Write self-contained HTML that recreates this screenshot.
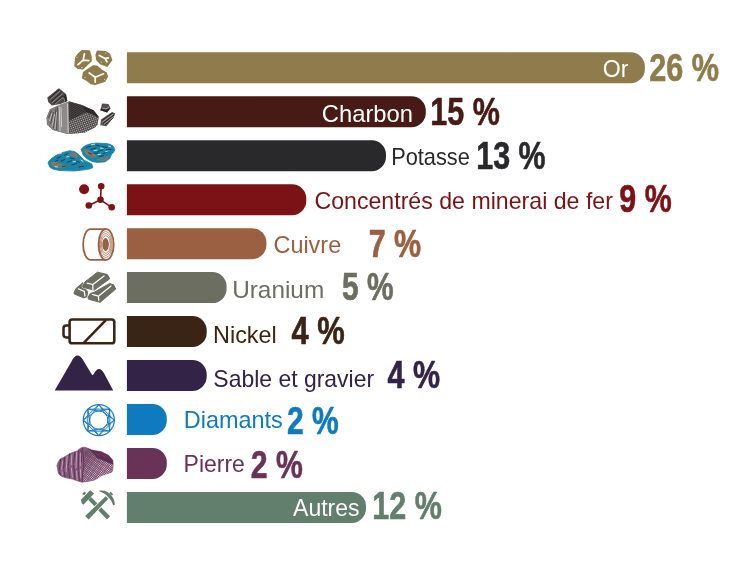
<!DOCTYPE html>
<html lang="fr">
<head>
<meta charset="utf-8">
<title>Production minérale</title>
<style>
html,body{margin:0;padding:0;background:#fff;}
body{width:748px;height:563px;overflow:hidden;}
svg{display:block;}
.lab{font-family:"Liberation Sans",sans-serif;font-size:23.8px;}
.num{font-family:"Liberation Sans",sans-serif;font-weight:bold;font-size:37.9px;stroke-width:0.6px;stroke-linejoin:round;}
</style>
</head>
<body>
<svg width="748" height="563" viewBox="0 0 748 563">
<rect width="748" height="563" fill="#fff"/>
<defs>
<pattern id="hatchCoal" width="1.8" height="1.8" patternUnits="userSpaceOnUse" patternTransform="rotate(18)"><rect width="1.8" height="1.8" fill="#c4c0c0"/><path d="M0 0.45H1.8M0.45 0V1.8" stroke="#454040" stroke-width="0.8"/></pattern>
<pattern id="hatchCoalDark" width="1.6" height="1.6" patternUnits="userSpaceOnUse" patternTransform="rotate(30)"><rect width="1.6" height="1.6" fill="#5a5555"/><path d="M0 0.5H1.6" stroke="#2d2929" stroke-width="1.1"/></pattern>
<pattern id="hatchStone" width="1.7" height="1.7" patternUnits="userSpaceOnUse" patternTransform="rotate(38)"><rect width="1.7" height="1.7" fill="#f3ecf1"/><path d="M0 0.45H1.7M0.45 0V1.7" stroke="#6e3a60" stroke-width="0.72"/></pattern>
</defs>
<g id="icon-or" fill="#8F7C4D" stroke="#8F7C4D" stroke-width="2.2" stroke-linejoin="round">
<polygon points="82.0,51.2 89.0,51.4 90.7,57.0 90.6,61.0 82.6,68.4 78.4,68.0 75.4,65.8 76.2,57.4 78.6,54.4"/>
<polygon points="97.6,51.6 105.5,52.0 109.1,54.4 111.2,59.8 107.1,65.6 100.8,63.4 97.2,59.8 96.6,55.0"/>
<polygon points="93.2,66.4 96.8,66.6 101.5,70.6 105.9,73.2 106.9,76.5 104.5,81.0 94.8,83.9 91.2,83.2 86.6,79.7 83.0,77.7 84.0,72.6 88.0,69.8"/>
</g>
<g fill="none" stroke="#fff" stroke-width="1.75" stroke-linecap="round">
<path d="M83.2 60.2L84.4 53.8M83.2 60.2L88.8 60.6M83.2 60.2L78.0 64.6"/>
<path d="M105.1 58.6L99.2 55.4M105.1 58.6L108.3 57.8M105.1 58.6L106.9 61.8"/>
<path d="M95.2 77.3L89.2 73.0M95.2 77.3L103.5 73.8M95.2 77.3L95.2 82.1"/>
</g>
<g fill="#fff" opacity="0.85"><circle cx="76.9" cy="57.5" r="0.55"/><circle cx="82.0" cy="67.6" r="0.55"/><circle cx="105.8" cy="53.1" r="0.55"/><circle cx="101.2" cy="62.1" r="0.55"/><circle cx="84.9" cy="77.6" r="0.55"/><circle cx="104.6" cy="79.6" r="0.55"/></g>
<g id="icon-charbon">
<polygon fill="#7d7878" points="46.6,117.5 50.0,109.3 60.0,104.8 69.5,101.3 82.8,105.3 93.5,110.7 98.6,116.5 97.6,124.5 95.2,127.2 84.9,132.6 77.5,133.2 66.8,133.9 52.8,129.9 47.0,124.6"/>
<polygon fill="#837e7e" points="46.6,117.5 50.0,109.3 58.5,105.4 59.5,131.8 52.8,129.9 47.0,124.6"/>
<path fill="none" stroke="#3f3a3a" stroke-width="0.7" d="M48.5 118L51.5 110.5M50.5 124L53.5 112M53.5 128.5L56 108.5M56.5 130L57.5 107"/>
<path fill="none" stroke="#e2dfdf" stroke-width="0.6" d="M49.5 121L52 113M52.2 126.5L54.5 114M55 129L56.6 112"/>
<polygon fill="#8f8a8a" points="58.5,105.4 68.6,101.7 69.0,133.6 59.5,131.8"/>
<path fill="none" stroke="#e6e3e3" stroke-width="0.75" d="M59.2 106.5L60 131M60.9 107L61.6 127M67.6 103.5L68.2 133"/>
<path fill="none" stroke="#4a4545" stroke-width="0.7" d="M68.9 102L69.6 133.5"/>
<polygon fill="url(#hatchCoalDark)" points="69.0,101.6 80.9,104.8 86.3,112.5 70.8,120.3 69.2,121.0"/>
<polygon fill="#2e2a2a" points="80.9,104.8 93.7,110.2 98.6,116.5 98.5,118.3 93.7,115.2 86.3,112.5"/>
<polygon fill="url(#hatchCoal)" points="69.2,121.0 70.8,120.3 86.3,112.5 93.7,115.2 98.5,118.3 97.6,124.5 95.2,127.2 84.9,132.6 77.5,133.2 69.4,133.7"/>
<polygon fill="#4f4a4a" points="47.3,97.5 58.9,88.2 66.0,94.0 67.3,101.0 60.5,104.0 51.8,105.5 48.2,102.0"/>
<path fill="none" stroke="#a8a3a3" stroke-width="0.7" d="M50.2 99.5L60 91.2M52.0 102.8L62.6 93.6M55 104.2L63.8 96.8"/>
<path fill="none" stroke="#2a2626" stroke-width="1.0" d="M49.0 98.6L59.2 89.6M51.2 101.4L61.4 92.4M53.4 104L63.4 95.4"/>
<polygon fill="#2f2b2b" points="62.8,96.6 65.9,94.2 67.3,101.0 64.5,102.4"/>
<path fill="none" stroke="#d0cccc" stroke-width="0.6" d="M63.6 97.6L64.8 101.6"/>
<polygon fill="#544f4f" points="102.1,103.5 108.5,103.9 110.6,108.5 107.1,112.4 100.3,110.3"/>
<polygon fill="#2c2828" points="101.0,108.6 105.6,109.4 110.2,108.0 107.1,112.4 100.3,110.3"/>
<path fill="none" stroke="#d8d5d5" stroke-width="0.6" d="M102.2 108.2L105.8 108.8L109 107.4"/>
<polygon fill="#5a5555" points="112.1,112.1 115.3,113.5 113.8,117.0 106.4,126.3 100.3,125.2 101.0,119.5"/>
<path fill="none" stroke="#262222" stroke-width="0.9" d="M102 120.5L112.6 113M103 123.4L114 115.2M104.8 125.2L113.6 117.4"/>
<path fill="none" stroke="#e2dfdf" stroke-width="0.55" d="M102.4 122L113.2 114.2M104 124.4L113.8 116.4"/>
</g>
<g id="icon-potasse">
<polygon fill="#1A84A8" stroke="#1A84A8" stroke-width="0.8" stroke-linejoin="round" points="48.1,163.4 48.6,161.4 52.0,158.0 57.2,154.8 63.0,152.4 69.4,150.7 74.5,151.6 78.5,154.3 81.5,157.6 84.6,160.4 88.4,162.2 91.8,163.9 92.8,167.5 89.5,169.0 84.6,169.8 74.5,171.0 59.2,170.5 53.5,169.2 50.1,167.5"/>
<polygon fill="#1A84A8" stroke="#1A84A8" stroke-width="0.8" stroke-linejoin="round" points="81.1,149.2 83.8,146.6 87.7,144.6 92.0,143.6 96.8,143.1 107.0,143.6 110.6,144.6 113.1,146.1 114.9,149.7 113.6,152.2 111.6,154.3 110.0,158.3 105.0,161.9 96.8,162.4 92.0,161.4 88.7,159.8 85.4,157.4 83.1,154.8"/>
<g fill="#8E7763">
<path d="M51.2 162.6Q54 160.8 58 162.4Q62.5 164.6 67.2 165.4Q66 168.2 60.4 168.2Q54.2 167.8 51.6 165.6Z"/>
<path d="M69.6 152.4Q74 151.8 77.2 154.8Q78.6 157.4 76.4 158.2Q73 156.2 70.2 155.2Z"/>
<path d="M84.0 150.0Q86.6 148.8 89.4 150.4Q92.6 153.8 96.6 155.6Q95.8 158.4 91.4 157.8Q86.6 156.2 84.4 152.8Z"/>
<path d="M96.8 159.2Q103 158.4 108.8 155.8Q109.4 158.4 105.4 160.4Q100 161.6 96.8 160.8Z"/>
</g>
<path fill="none" stroke="#1A84A8" stroke-width="0.8" stroke-linecap="round" d="M53 165.2L58 163.4M57 167.4L63 165.4M61.5 168L66 166.2M71 153.6L75.5 156.6M86 150.4L90 154.6M88 155.6L94 156.6M99 160.6L106 158"/>
<path fill="none" stroke="#173842" stroke-width="0.85" stroke-linecap="round" d="M57 158.4L61 156.6M61 161L64.6 159.6M64.6 155.2L67.6 153.8M67 162.4L71.4 160.8M70.4 158L74 158.8M71.6 165L76.6 163.6M76 161.4L79.6 162.4M79 167L83.6 166.2M62.6 166.6L66 166M55.4 161.4L58 160.2M86.6 147.4L90.4 146.4M91 149.4L96 148M96 145.2L99.6 146M98 151.4L103 149.8M102 146.4L107 147.6M94 153.2L98 153M103.4 153.6L108 151.6M106.4 149.8L111 149.4M99.4 156.6L103.4 155.6M88.6 152.8L91.6 154"/>
<path fill="none" stroke="#e4f2f6" stroke-width="0.8" stroke-linecap="round" d="M59 153.8L61.6 153.1M66.5 157L69 156.5M73 161.8L75.6 161.4M80.8 160L83.2 161.6M55 166.6L57.6 167M91.5 144.6L94.6 144.2M94 150.6L97 150.1M100.5 148.2L103 148.4M105.5 151.8L108 150.9M108.5 146L110.6 146.7M98 154.6L100.6 154.2"/>
</g>
<g id="icon-fer" fill="#7B1216" stroke="none">
<circle cx="84.1" cy="189.3" r="5"/>
<path fill="none" stroke="#7B1216" stroke-width="1.6" d="M100.5 199.8L101.2 186.2M100.5 199.8L88.8 205.5M100.5 199.8L111.7 207.3"/>
<circle cx="101.2" cy="186.2" r="3.3"/>
<circle cx="100.5" cy="199.8" r="3.3"/>
<circle cx="88.8" cy="205.5" r="3.3"/>
<circle cx="111.7" cy="207.3" r="3.3"/>
</g>
<g id="icon-cuivre" fill="none" stroke="#9B6041">
<path stroke-width="1.8" d="M106.1 229.1H90.6A7.5 15.4 0 0 0 90.6 259.9H106.1"/>
<ellipse stroke-width="1.8" cx="106.1" cy="244.5" rx="7.6" ry="15.4"/>
<ellipse stroke-width="0.7" cx="105.8" cy="244.5" rx="6.4" ry="13.0"/>
<ellipse stroke-width="0.7" cx="105.8" cy="244.5" rx="5.4" ry="10.9"/>
<ellipse stroke-width="0.7" cx="105.8" cy="244.5" rx="4.4" ry="8.8"/>
<ellipse fill="#9B6041" stroke="none" cx="105.6" cy="244.5" rx="3.3" ry="6.5"/>
</g>
<g id="icon-uranium" fill="#6B6E60" stroke="#6B6E60" stroke-width="1" stroke-linejoin="round">
<polygon points="83.0,282.6 84.0,287.4 87.7,291.6 86.8,296.9 83.6,297.8 74.4,294.1 74.0,292.4 76.1,288.4"/>
<polygon points="109.6,283.5 113.6,284.8 115.7,289.1 100.2,302.3 88.5,299.2 88.0,297.6 90.2,293.5 94.6,292.1"/>
<polygon stroke="#fff" stroke-width="1.6" points="97.4,272.2 107.4,274.5 109.7,278.8 94.2,290.1 83.2,287.4 82.4,286.3 85.0,281.9"/>
<polygon points="97.4,272.2 107.4,274.5 109.7,278.8 94.2,290.1 83.2,287.4 82.4,286.3 85.0,281.9"/>
</g>
<g fill="none" stroke="#fff" stroke-width="1.25" stroke-linecap="round" stroke-linejoin="round">
<path d="M92.8 284.5L87.1 283.1M92.8 284.5L104 276M92.8 284.5L92.9 289.4"/>
<path d="M98.4 296.2L92.3 294.3M98.4 296.2L111 285.9M98.4 296.2L98.8 300.2"/>
<path d="M78.4 288.9L84.3 291.3L84.9 295.9"/>
</g>
<g id="icon-nickel" fill="none" stroke="#3A2416" stroke-width="2.55" stroke-linejoin="round">
<rect x="69.6" y="319.5" width="44.7" height="23.8" rx="2.6"/>
<path d="M69.6 325.4H66.3A2.8 2.8 0 0 0 63.5 328.2V334.6A2.8 2.8 0 0 0 66.3 337.4H69.6"/>
<path d="M105.8 320.2L84.0 342.6"/>
</g>
<path id="icon-sable" fill="#322347" d="M54.7 390.5L71.5 361.4Q77.5 349.5 83.9 361.4L92.3 375.3L93.8 374Q99 364 104.4 374L113.2 390.5Z"/>
<g id="icon-diamants" fill="none" stroke="#1A7ABF" stroke-width="1" stroke-linejoin="round">
<circle cx="98.8" cy="420.1" r="15.55" stroke-width="1.25"/>
<polygon points="114.3,420.1 98.8,435.7 83.2,420.1 98.8,404.6"/>
<polygon points="109.8,431.1 87.8,431.1 87.8,409.1 109.8,409.1"/>
<path d="M114.35 420.10L102.32 411.60M114.35 420.10L102.32 428.60M109.80 431.10L107.30 416.58M109.80 431.10L95.28 428.60M98.80 435.65L107.30 423.62M98.80 435.65L90.30 423.62M87.80 431.10L102.32 428.60M87.80 431.10L90.30 416.58M83.25 420.10L95.28 428.60M83.25 420.10L95.28 411.60M87.80 409.10L90.30 423.62M87.80 409.10L102.32 411.60M98.80 404.55L90.30 416.58M98.80 404.55L107.30 416.58M109.80 409.10L95.28 411.60M109.80 409.10L107.30 423.62"/>
</g>
<g id="icon-pierre">
<defs><linearGradient id="stoneShade" gradientUnits="userSpaceOnUse" x1="86" y1="452" x2="103" y2="474"><stop offset="0" stop-color="#6A3A5E" stop-opacity="0.75"/><stop offset="0.55" stop-color="#6A3A5E" stop-opacity="0.25"/><stop offset="1" stop-color="#6A3A5E" stop-opacity="0"/></linearGradient></defs>
<polygon fill="#84597A" stroke="#84597A" stroke-width="0.6" stroke-linejoin="round" points="56.9,465.4 58.4,461.6 60.4,458.8 65.2,456.6 69.7,453.5 77.6,450.8 80.2,448.2 83.0,447.2 85.5,447.3 91.7,449.9 101.4,451.7 108.5,455.2 112.9,460.5 113.2,464.5 112.9,468.5 112.0,472.0 106.5,474.0 101.4,475.5 97.5,478.4 94.4,480.0 88.0,481.4 82.0,482.2 77.0,480.8 72.3,479.1 66.5,477.9 61.7,476.4 59.4,474.8 58.2,472.9 57.6,469.0"/>
<polygon fill="url(#hatchStone)" points="84.0,451.0 87.5,450.6 91.8,452.0 97.0,458.0 104.8,461.0 112.9,464.2 112.9,468.5 112.0,472.0 106.5,474.0 101.4,475.5 97.5,478.4 94.4,480.0 88.0,481.2 83.0,481.6 83.0,468.5 85.5,459.0"/>
<polygon fill="url(#stoneShade)" points="84.0,451.0 87.5,450.6 91.8,452.0 97.0,458.0 104.8,461.0 112.9,464.2 112.9,468.5 112.0,472.0 106.5,474.0 101.4,475.5 97.5,478.4 94.4,480.0 88.0,481.2 83.0,481.6 83.0,468.5 85.5,459.0"/>
<polygon fill="#5E2E51" points="86.5,447.8 91.7,449.9 101.4,451.7 108.5,455.2 112.9,460.5 113.1,464.6 104.8,461.2 97.0,458.0 91.8,452.0"/>
<path fill="none" stroke="#7d4f71" stroke-width="0.6" d="M95 452.6L100 456.4M99.5 452.8L105.5 457.6M104.5 454.6L110 459.6"/>
<path fill="none" stroke="#5E2E51" stroke-width="0.9" stroke-linecap="round" d="M60.6 459.4L59.2 470M59.6 472L60.4 475M64.8 457L63.6 468.4M64 470.6L65 477M69.6 454L68.2 466M68.6 468L69.6 478M74.8 452L73.8 463M73.6 465.4L75 479.6M78.8 450L78.2 470M78.6 472L79.4 480.8M82.4 448L83.6 458L83.9 464.4L82.6 474L82.2 481.8M81 450L81.4 462"/>
<path fill="none" stroke="#CDB9C8" stroke-width="0.75" stroke-linecap="round" d="M62.6 461L61.6 469.6M62 471.6L62.6 474.4M67.2 456.4L66 472M71.8 455L71.2 465M71.4 468L72.4 477.4M76.6 452.6L76 468M76.6 471L77.2 479.6M80.4 453L80.2 466M80.4 469L80.8 478"/>
</g>
<g id="icon-autres" fill="#627E6C">
<polygon points="88.2,499.7 106.9,519.4 110.1,516.2 91.0,497.1"/>
<polygon points="90.1,490.2 94.1,493.5 83.4,504.8 81.8,503.6 80.9,499.7"/>
<polygon points="84.4,491.6 86.2,492.9 84.1,495.3 82.2,494.0"/>
<polygon fill="#fff" points="102.1,498.7 89.9,510.6 94.1,514.8 105.9,502.5"/>
<polygon points="105.7,496.2 85.2,516.1 88.6,519.5 108.3,498.8"/>
<path d="M99.1 490.5Q102 490.2 104.8 490.8Q107.6 491.8 109.9 493.7Q112.2 496 113.5 498.8Q114.6 501.6 114.9 504.5Q114.2 505.6 113.1 505.2Q112.4 502.8 111.2 500.7Q109.8 498.6 108.0 496.9Q106.6 495.2 104.8 494.0Q102.8 492.8 100.4 491.8Q99 491.2 99.1 490.5Z"/>
<polygon points="110.6,491.8 113.1,494.2 111.9,495.6 109.3,493.2"/>
</g>
<g id="row-or">
<path fill="#8F7C4D" d="M126.9 52.30H630.50A14.4 14.4 0 0 1 644.90 66.70V68.90A14.4 14.4 0 0 1 630.50 83.30H126.9Z"/>
<text class="lab" x="602.81" y="76.70" textLength="25.68" lengthAdjust="spacingAndGlyphs" fill="#fff">Or</text>
<text class="num" x="649.23" y="81.35" textLength="69.92" lengthAdjust="spacingAndGlyphs" fill="#8F7C4D" stroke="#8F7C4D">26 %</text>
</g>
<g id="row-charbon">
<path fill="#471A16" d="M126.9 96.26H411.40A14.4 14.4 0 0 1 425.80 110.66V112.86A14.4 14.4 0 0 1 411.40 127.26H126.9Z"/>
<text class="lab" x="321.81" y="121.50" textLength="91.24" lengthAdjust="spacingAndGlyphs" fill="#fff">Charbon</text>
<text class="num" x="430.32" y="125.40" textLength="69.61" lengthAdjust="spacingAndGlyphs" fill="#471A16" stroke="#471A16">15 %</text>
</g>
<g id="row-potasse">
<path fill="#29292B" d="M126.9 140.22H371.60A14.4 14.4 0 0 1 386.00 154.62V156.82A14.4 14.4 0 0 1 371.60 171.22H126.9Z"/>
<text class="lab" x="391.13" y="164.50" textLength="78.62" lengthAdjust="spacingAndGlyphs" fill="#29292B">Potasse</text>
<text class="num" x="476.31" y="168.80" textLength="69.28" lengthAdjust="spacingAndGlyphs" fill="#29292B" stroke="#29292B">13 %</text>
</g>
<g id="row-fer">
<path fill="#7B1216" d="M126.9 184.18H291.90A14.4 14.4 0 0 1 306.30 198.58V200.78A14.4 14.4 0 0 1 291.90 215.18H126.9Z"/>
<text class="lab" x="314.46" y="209.30" textLength="298.47" lengthAdjust="spacingAndGlyphs" fill="#7B1216">Concentrés de minerai de fer</text>
<text class="num" x="619.36" y="212.20" textLength="52.39" lengthAdjust="spacingAndGlyphs" fill="#7B1216" stroke="#7B1216">9 %</text>
</g>
<g id="row-cuivre">
<path fill="#9B6041" d="M126.9 228.14H252.00A14.4 14.4 0 0 1 266.40 242.54V244.74A14.4 14.4 0 0 1 252.00 259.14H126.9Z"/>
<text class="lab" x="273.46" y="253.30" textLength="67.73" lengthAdjust="spacingAndGlyphs" fill="#9B6041">Cuivre</text>
<text class="num" x="368.69" y="256.80" textLength="52.56" lengthAdjust="spacingAndGlyphs" fill="#9B6041" stroke="#9B6041">7 %</text>
</g>
<g id="row-uranium">
<path fill="#6B6E60" d="M126.9 272.10H212.20A14.4 14.4 0 0 1 226.60 286.50V288.70A14.4 14.4 0 0 1 212.20 303.10H126.9Z"/>
<text class="lab" x="232.16" y="298.30" textLength="92.04" lengthAdjust="spacingAndGlyphs" fill="#6B6E60">Uranium</text>
<text class="num" x="342.11" y="300.30" textLength="51.57" lengthAdjust="spacingAndGlyphs" fill="#6B6E60" stroke="#6B6E60">5 %</text>
</g>
<g id="row-nickel">
<path fill="#3A2416" d="M126.9 316.06H192.30A14.4 14.4 0 0 1 206.70 330.46V332.66A14.4 14.4 0 0 1 192.30 347.06H126.9Z"/>
<text class="lab" x="213.08" y="342.50" textLength="63.61" lengthAdjust="spacingAndGlyphs" fill="#3A2416">Nickel</text>
<text class="num" x="291.55" y="343.80" textLength="53.26" lengthAdjust="spacingAndGlyphs" fill="#3A2416" stroke="#3A2416">4 %</text>
</g>
<g id="row-sable">
<path fill="#322347" d="M126.9 360.02H192.30A14.4 14.4 0 0 1 206.70 374.42V376.62A14.4 14.4 0 0 1 192.30 391.02H126.9Z"/>
<text class="lab" x="213.36" y="386.60" textLength="160.70" lengthAdjust="spacingAndGlyphs" fill="#322347">Sable et gravier</text>
<text class="num" x="387.50" y="387.80" textLength="52.47" lengthAdjust="spacingAndGlyphs" fill="#322347" stroke="#322347">4 %</text>
</g>
<g id="row-diamants">
<path fill="#0F7ABF" d="M126.9 403.98H152.40A14.4 14.4 0 0 1 166.80 418.38V420.58A14.4 14.4 0 0 1 152.40 434.98H126.9Z"/>
<text class="lab" x="183.79" y="427.70" textLength="99.01" lengthAdjust="spacingAndGlyphs" fill="#0F7ABF">Diamants</text>
<text class="num" x="287.06" y="433.70" textLength="51.75" lengthAdjust="spacingAndGlyphs" fill="#0F7ABF" stroke="#0F7ABF">2 %</text>
</g>
<g id="row-pierre">
<path fill="#683357" d="M126.9 447.94H152.40A14.4 14.4 0 0 1 166.80 462.34V464.54A14.4 14.4 0 0 1 152.40 478.94H126.9Z"/>
<text class="lab" x="183.55" y="471.70" textLength="61.35" lengthAdjust="spacingAndGlyphs" fill="#683357">Pierre</text>
<text class="num" x="250.81" y="477.70" textLength="52.06" lengthAdjust="spacingAndGlyphs" fill="#683357" stroke="#683357">2 %</text>
</g>
<g id="row-autres">
<path fill="#627E6C" d="M126.9 491.90H351.60A14.4 14.4 0 0 1 366.00 506.30V508.50A14.4 14.4 0 0 1 351.60 522.90H126.9Z"/>
<text class="lab" x="293.04" y="515.70" textLength="66.50" lengthAdjust="spacingAndGlyphs" fill="#fff">Autres</text>
<text class="num" x="372.35" y="518.80" textLength="69.62" lengthAdjust="spacingAndGlyphs" fill="#627E6C" stroke="#627E6C">12 %</text>
</g>
</svg>
</body>
</html>
